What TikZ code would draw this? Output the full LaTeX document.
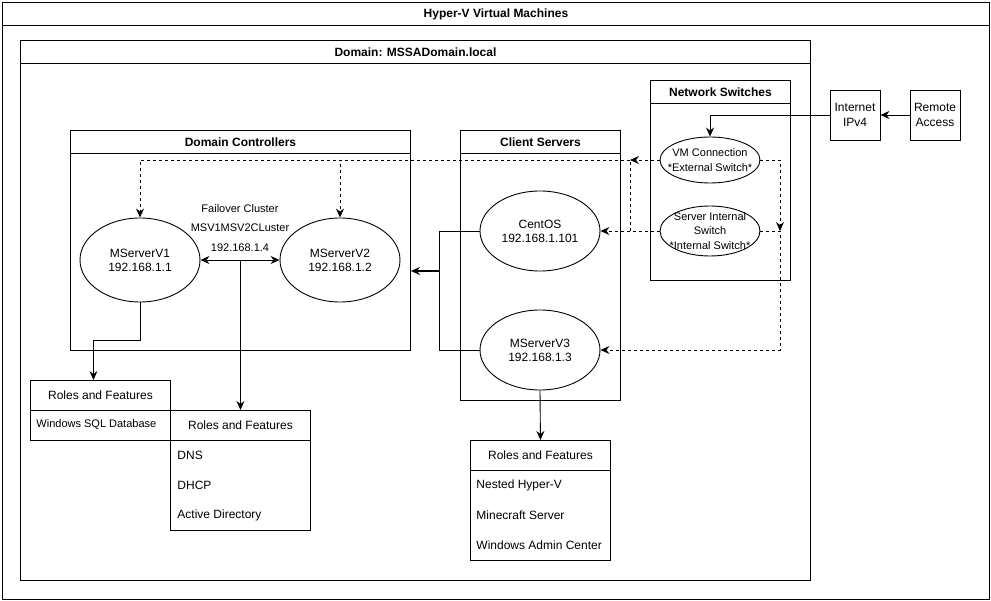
\documentclass[tikz,border=0pt]{standalone}
\usepackage{fontspec}
\setmainfont{Liberation Sans}
\usetikzlibrary{arrows.meta,shapes.geometric}

\begin{document}
\begin{tikzpicture}[x=1pt,y=-1pt,line width=0.9pt,
  >={Stealth[length=9pt,width=8pt,inset=3pt]},
  lane/.style={draw,anchor=north west,inner sep=0pt,font=\fontsize{12}{14}\selectfont},
  head/.style={draw,anchor=north,inner sep=0pt,minimum height=23.5pt,font=\fontsize{12}{14}\selectfont\bfseries},
  ell/.style={draw,ellipse,inner sep=0pt},
  txt/.style={align=center,font=\fontsize{12}{14}\selectfont},
  small/.style={font=\fontsize{11}{14.5}\selectfont},
  item/.style={anchor=west,inner sep=0pt,font=\fontsize{12}{14}\selectfont},
  plain/.style={draw,minimum width=50pt,minimum height=50pt,inner sep=0pt,align=center,font=\fontsize{12}{15}\selectfont},
  dline/.style={dash pattern=on 3pt off 3pt}]
                \useasboundingbox (0,0) rectangle (991,601);

                \node[lane,minimum width=987pt,minimum height=597pt] (hv) at (2,2) {};
                \node[head,minimum width=987pt] (hvh) at (hv.north) {Hyper-V Virtual Machines};
                \node[lane,minimum width=790pt,minimum height=540pt] (dom) at (20,40) {};
                \node[head,minimum width=790pt] (domh) at (dom.north) {Domain: MSSADomain.local};
                \node[lane,minimum width=340pt,minimum height=220pt] (dc) at (70,130) {};
                \node[head,minimum width=340pt] (dch) at (dc.north) {Domain Controllers};
                \node[lane,minimum width=160pt,minimum height=270pt] (cs) at (460,130) {};
                \node[head,minimum width=160pt] (csh) at (cs.north) {Client Servers};
                \node[lane,minimum width=140pt,minimum height=200pt] (ns) at (650,80) {};
                \node[head,minimum width=140pt] (nsh) at (ns.north) {Network Switches};

                \node[plain] (inet) at (855,115) {Internet\\IPv4};
                \node[plain] (rem) at (935,115) {Remote\\Access};

                \node[ell,minimum width=100pt,minimum height=46pt,label={[txt,small]center:VM Connection\\*External Switch*}] (vm) at (710,160) {};
                \node[ell,minimum width=100pt,minimum height=50pt,label={[txt,small]center:Server Internal\\Switch\\*Internal Switch*}] (sw) at (710,231) {};
                \node[ell,minimum width=120pt,minimum height=84pt,label={[txt]center:MServerV1\\192.168.1.1}] (v1) at (140,260) {};
                \node[ell,minimum width=120pt,minimum height=84pt,label={[txt]center:MServerV2\\192.168.1.2}] (v2) at (340,260) {};
                \node[ell,minimum width=120pt,minimum height=80pt,label={[txt]center:CentOS\\192.168.1.101}] (cent) at (540,231) {};
                \node[ell,minimum width=120pt,minimum height=80pt,label={[txt]center:MServerV3\\192.168.1.3}] (v3) at (540,350) {};
                \node[txt,font=\fontsize{11}{19.5}\selectfont] (fc) at (240,228) {Failover Cluster\\MSV1MSV2CLuster\\192.168.1.4};

                \node[lane,minimum width=140pt,minimum height=30pt] (r1h) at (30,380) {Roles and Features};
                \node[lane,minimum width=140pt,minimum height=30pt] (r1b) at (30,410) {};
                \node[item,small] (sql) at (36,425) {Windows SQL Database};
                \node[lane,minimum width=140pt,minimum height=30pt] (r2h) at (170,410) {Roles and Features};
                \node[lane,minimum width=140pt,minimum height=90pt] (r2b) at (170,440) {};
                \node[item] (dns) at (177,455) {DNS};
                \node[item] (dhcp) at (177,485) {DHCP};
                \node[item] (ad) at (177,515) {Active Directory};
                \node[lane,minimum width=140pt,minimum height=30pt] (r3h) at (470,440) {Roles and Features};
                \node[lane,minimum width=140pt,minimum height=90pt] (r3b) at (470,470) {};
                \node[item] (nhv) at (476,485) {Nested Hyper-V};
                \node[item] (mc) at (476,515) {Minecraft Server};
                \node[item] (wac) at (476,545) {Windows Admin Center};

                \coordinate (jl) at (630,160);
                \coordinate (jr) at (780,231);
                \coordinate (cj) at (440,271);

                \draw [->] (rem) -- (inet);
                \draw [->] (inet.west) -| (vm.north);
                \draw [dline, ->] (vm.west) -- (jl);
                \draw [dline] (sw.west) -| (jl);
                \draw [dline, ->] (jl) -| (v1.north);
                \draw [dline, ->] (jl) -| (v2.north);
                \draw [dline, ->] (jl |- sw.west) -- (cent.east);
                \draw [dline, ->] (vm.east) -| (jr);
                \draw [dline, ->] (sw.east) -- (jr) |- (v3.east);

                \draw [<->] (v1.east) -- (v2.west);
                \draw [->] (v1.south) -- ++(0,38) -| ([xshift=-7pt]r1h.north);
                \draw [->] (v1.east -| r2h.north) -- (r2h.north);
                \draw (cent.west) -- ++(-40,0) |- (v3.west);
                \draw [->, line width=1.6pt] (cj) -- (cj -| dc.east);
                \draw [->] (v3.south) -- (r3h.north);
            \end{tikzpicture}
\end{document}
